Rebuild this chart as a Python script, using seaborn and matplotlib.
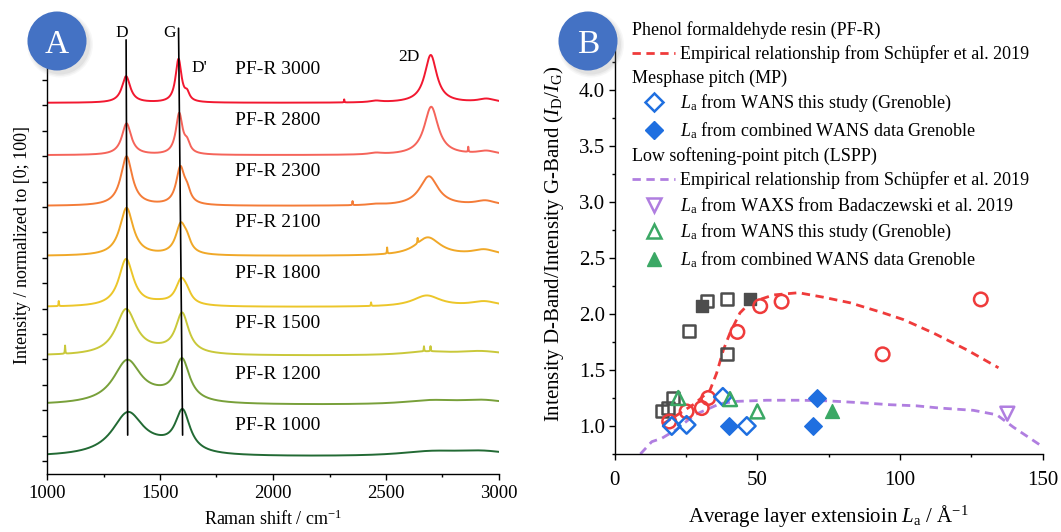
import numpy as np
import matplotlib
matplotlib.use("Agg")
import matplotlib.pyplot as plt
import seaborn as sns
from matplotlib.lines import Line2D
from matplotlib.patches import Circle
from matplotlib.ticker import MultipleLocator, FixedLocator

# ---------------- Panel A : Raman spectra (peak parameters) ----------------
samples = ["PF-R 1000", "PF-R 1200", "PF-R 1500", "PF-R 1800",
           "PF-R 2100", "PF-R 2300", "PF-R 2800", "PF-R 3000"]
colors_a = ["#226a34", "#78a03a", "#c9c83a", "#ecc62a",
            "#f0a828", "#f47c38", "#f5645a", "#f21830"]
base = [8, 10, 7, 3, 3.5, 2, 2, 5]
d_pos = [1358, 1355, 1350, 1350, 1352, 1352, 1352, 1350]
d_amp = [83, 84, 89, 93, 94, 97, 62, 52]
d_fwhm = [170, 150, 110, 78, 72, 62, 50, 45]
g_pos = [1600, 1598, 1598, 1594, 1592, 1590, 1585, 1582]
g_amp = [80, 80, 78, 48, 58, 72, 80, 85]
g_fwhm = [80, 80, 70, 60, 55, 45, 36, 32]
dp_pos = [1620, 1620, 1620, 1620, 1620, 1620, 1620, 1620]
dp_amp = [0, 0, 0, 12, 18, 20, 18, 14]
dp_fwhm = [40, 40, 40, 45, 40, 35, 30, 25]
d3_pos = [1500, 1500, 1500, 1500, 1500, 1500, 1500, 1500]
d3_amp = [10, 10, 6, 5, 0, 0, 0, 0]
d3_fwhm = [200, 200, 200, 150, 150, 150, 150, 150]
twod_pos = [2700, 2700, 2680, 2680, 2685, 2690, 2700, 2698]
twod_amp = [9, 8, 7, 22, 36, 58, 95, 94]
twod_fwhm = [350, 300, 250, 150, 135, 100, 75, 65]
dg_pos = [2930, 2930, 2920, 2935, 2935, 2940, 2945, 2945]
dg_amp = [9, 8, 8, 10, 11, 9, 7, 7]
dg_fwhm = [300, 250, 250, 150, 130, 110, 100, 90]
sm_pos = [2455, 2455, 2455, 2455, 2455, 2455, 2455, 2455]
sm_amp = [0, 0, 0, 0, 0, 2, 3, 3]
sm_fwhm = [80, 80, 80, 80, 80, 80, 70, 60]
# cosmic-ray spikes: (sample index, position, height)
spike_idx = [7, 6, 5, 4, 4, 3, 3, 2, 2, 2]
spike_pos = [2315, 2864, 2352, 2505, 2640, 1052, 2434, 1080, 2668, 2697]
spike_amp = [6, 10, 8, 12, 10, 10, 7, 16, 10, 10]

# ---------------- Panel B data ----------------
pfr_la = [19.1, 25.2, 30.5, 32.8, 43.0, 51.0, 58.5, 93.9, 128.3]
pfr_r = [1.04, 1.13, 1.16, 1.25, 1.84, 2.07, 2.11, 1.64, 2.13]
grey_open_la = [16.5, 18.8, 20.5, 26.0, 32.2, 39.5, 39.5]
grey_open_r = [1.13, 1.16, 1.25, 1.85, 2.12, 2.13, 1.64]
grey_fill_la = [30.5, 47.4]
grey_fill_r = [2.07, 2.13]
mp_open_la = [20.0, 25.2, 37.9, 46.3]
mp_open_r = [1.00, 1.01, 1.26, 1.00]
mp_fill_la = [40.2, 70.8, 69.6]
mp_fill_r = [1.00, 1.25, 1.00]
lspp_waxs_la = [137.6]
lspp_waxs_r = [1.11]
lspp_open_la = [22.3, 40.4, 50.0]
lspp_open_r = [1.25, 1.24, 1.13]
lspp_fill_la = [76.1]
lspp_fill_r = [1.13]
pfr_emp_la = [17.0, 22.0, 28.1, 33.4, 35.7, 38.1, 40.4, 43.9, 47.4, 55.6, 64.4,
              73.1, 82.5, 94.1, 101.2, 111.7, 123.4, 134.5]
pfr_emp_r = [1.02, 1.10, 1.20, 1.32, 1.47, 1.68, 1.83, 2.01, 2.10, 2.17, 2.19,
             2.15, 2.10, 2.01, 1.95, 1.83, 1.68, 1.52]
lspp_emp_la = [9.0, 13.0, 16.5, 21.7, 28.0, 33.4, 37.0, 42.8, 53.3, 64.9, 74.3,
               84.8, 96.5, 105.8, 114.0, 125.7, 133.9, 139.7, 149.1, 150.0]
lspp_emp_r = [0.75, 0.86, 0.89, 0.97, 1.10, 1.16, 1.20, 1.22, 1.23, 1.23, 1.225,
              1.21, 1.19, 1.18, 1.16, 1.14, 1.10, 0.99, 0.83, 0.81]

RED = "#ef3b3b"
PURPLE = "#b07ee0"
BLUE = "#1f6fe0"
GREEN = "#3ba865"
GREY = "#4d4d4d"
BADGE = "#4472c4"

sns.set_theme(style="ticks")
plt.rcParams["font.family"] = ["Liberation Serif", "DejaVu Serif"]
plt.rcParams["mathtext.fontset"] = "custom"
plt.rcParams["mathtext.rm"] = "Liberation Serif"
plt.rcParams["mathtext.it"] = "Liberation Serif:italic"
plt.rcParams["mathtext.bf"] = "Liberation Serif:bold"
plt.rcParams["axes.edgecolor"] = "black"
plt.rcParams["xtick.color"] = "black"
plt.rcParams["ytick.color"] = "black"
plt.rcParams["text.color"] = "black"
plt.rcParams["axes.labelcolor"] = "black"

W, H = 1061, 532
fig = plt.figure(figsize=(W / 100, H / 100), dpi=100)
axA = fig.add_axes([47 / W, (H - 474) / H, 452 / W, (474 - 15) / H])
axB = fig.add_axes([614.7 / W, (H - 454) / H, 428 / W, (454 - 34) / H])


def lor(x, c, h, w):
    return h / (1.0 + ((x - c) / (w / 2.0)) ** 2)


x = np.linspace(1000, 3000, 4001)
step = 100
for i, name in enumerate(samples):
    y = np.full_like(x, base[i], dtype=float)
    y += lor(x, d_pos[i], d_amp[i], d_fwhm[i])
    y += lor(x, g_pos[i], g_amp[i], g_fwhm[i])
    y += lor(x, dp_pos[i], dp_amp[i], dp_fwhm[i])
    y += lor(x, d3_pos[i], d3_amp[i], d3_fwhm[i])
    y += lor(x, twod_pos[i], twod_amp[i], twod_fwhm[i])
    y += lor(x, dg_pos[i], dg_amp[i], dg_fwhm[i])
    y += lor(x, sm_pos[i], sm_amp[i], sm_fwhm[i])
    for k, p, a in zip(spike_idx, spike_pos, spike_amp):
        if k == i:
            y += lor(x, p, a, 2.5)
    sns.lineplot(x=x, y=y + i * step, ax=axA, color=colors_a[i], lw=1.4,
                 estimator=None, errorbar=None, sort=False, legend=False)
    axA.text(1830, i * step + 70, name, fontsize=14, ha="left", va="center")

# peak position guide lines
axA.plot([d_pos[-1], d_pos[0] - 1], [829, 51], color="black", lw=1.2, zorder=5)
axA.plot([g_pos[-1], g_pos[0]], [852, 51], color="black", lw=1.2, zorder=5)
axA.text(1331, 842, "D", fontsize=12.5, ha="center", va="center")
axA.text(1543, 842, "G", fontsize=12.5, ha="center", va="center")
axA.text(1675, 773, "D'", fontsize=12.5, ha="center", va="center")
axA.text(2602, 795, "2D", fontsize=12.5, ha="center", va="center")

axA.set_xlim(1000, 3000)
axA.set_ylim(-25.6, 878)
axA.xaxis.set_major_locator(MultipleLocator(500))
axA.xaxis.set_minor_locator(MultipleLocator(250))
axA.yaxis.set_major_locator(FixedLocator(np.arange(0, 751, 50)))
axA.set_yticklabels([])
axA.tick_params(axis="x", which="major", direction="out", length=4, width=1, labelsize=13.5, pad=4)
axA.tick_params(axis="x", which="minor", direction="out", length=2.5, width=1)
axA.tick_params(axis="y", which="major", direction="out", length=3.5, width=1)
for s in ["top", "right"]:
    axA.spines[s].set_visible(False)
for s in ["left", "bottom"]:
    axA.spines[s].set_linewidth(1.0)
axA.set_xlabel("Raman shift / cm$^{-1}$", fontsize=13)
axA.set_ylabel("Intensity / normalized to [0; 100]", fontsize=13)
axA.xaxis.set_label_coords(0.5, -0.078)
axA.yaxis.set_label_coords(-0.035, 0.5)

# ---------------- Panel B ----------------
dash = (0, (3, 2))
sns.lineplot(x=pfr_emp_la, y=pfr_emp_r, ax=axB, color=RED, lw=2, linestyle=dash,
             estimator=None, errorbar=None, sort=False, legend=False)
sns.lineplot(x=lspp_emp_la, y=lspp_emp_r, ax=axB, color=PURPLE, lw=2, linestyle=dash,
             estimator=None, errorbar=None, sort=False, legend=False)

EW = 1.8
sns.scatterplot(x=grey_fill_la, y=grey_fill_r, ax=axB, marker="s", s=74,
                color=GREY, edgecolor=GREY, linewidth=1, legend=False, zorder=3)
sns.scatterplot(x=grey_open_la, y=grey_open_r, ax=axB, marker="s", s=74,
                facecolor="none", edgecolor=GREY, linewidth=EW, legend=False, zorder=3)
sns.scatterplot(x=pfr_la, y=pfr_r, ax=axB, marker="o", s=95,
                facecolor="none", edgecolor=RED, linewidth=EW, legend=False, zorder=3)
sns.scatterplot(x=mp_open_la, y=mp_open_r, ax=axB, marker="D", s=80,
                facecolor="none", edgecolor=BLUE, linewidth=EW, legend=False, zorder=4)
sns.scatterplot(x=mp_fill_la, y=mp_fill_r, ax=axB, marker="D", s=80,
                color=BLUE, edgecolor=BLUE, linewidth=1, legend=False, zorder=4)
sns.scatterplot(x=lspp_waxs_la, y=lspp_waxs_r, ax=axB, marker="v", s=100,
                facecolor="none", edgecolor=PURPLE, linewidth=EW, legend=False, zorder=4)
sns.scatterplot(x=lspp_open_la, y=lspp_open_r, ax=axB, marker="^", s=100,
                facecolor="none", edgecolor=GREEN, linewidth=EW, legend=False, zorder=4)
sns.scatterplot(x=lspp_fill_la, y=lspp_fill_r, ax=axB, marker="^", s=100,
                color=GREEN, edgecolor=GREEN, linewidth=1, legend=False, zorder=4)

axB.set_xlim(0, 150)
axB.set_ylim(0.75, 4.5)
axB.xaxis.set_major_locator(MultipleLocator(50))
axB.xaxis.set_minor_locator(MultipleLocator(25))
axB.yaxis.set_major_locator(FixedLocator(np.arange(1.0, 4.01, 0.5)))
axB.yaxis.set_minor_locator(FixedLocator(np.arange(0.75, 4.3, 0.25)))
axB.tick_params(axis="both", which="major", direction="out", length=4.3, width=1, labelsize=15)
axB.tick_params(axis="x", which="major", pad=8)
axB.tick_params(axis="y", which="major", pad=2.7)
axB.tick_params(axis="both", which="minor", direction="out", length=2.5, width=1)
for s in ["top", "right"]:
    axB.spines[s].set_visible(False)
for s in ["left", "bottom"]:
    axB.spines[s].set_linewidth(1.0)
axB.set_xlabel("Average layer extensioin $L_\\mathrm{a}$ / Å$^{-1}$", fontsize=15)
axB.set_ylabel("Intensity D-Band/Intensity G-Band ($I_\\mathrm{D}$/$I_\\mathrm{G}$)", fontsize=15)
axB.xaxis.set_label_coords(0.5, -0.117)
axB.yaxis.set_label_coords(-0.114, 0.5)

blank = Line2D([], [], linestyle="none")
handles = [
    blank,
    Line2D([], [], color=RED, lw=2, linestyle=dash),
    blank,
    Line2D([], [], linestyle="none", marker="D", markersize=9, mfc="none", mec=BLUE, mew=EW),
    Line2D([], [], linestyle="none", marker="D", markersize=9, mfc=BLUE, mec=BLUE),
    blank,
    Line2D([], [], color=PURPLE, lw=2, linestyle=dash),
    Line2D([], [], linestyle="none", marker="v", markersize=10, mfc="none", mec=PURPLE, mew=EW),
    Line2D([], [], linestyle="none", marker="^", markersize=10, mfc="none", mec=GREEN, mew=EW),
    Line2D([], [], linestyle="none", marker="^", markersize=10, mfc=GREEN, mec=GREEN),
]
labels = [
    "Phenol formaldehyde resin (PF-R)",
    "Empirical relationship from Schüpfer et al. 2019",
    "Mesphase pitch (MP)",
    "$L_\\mathrm{a}$ from WANS this study (Grenoble)",
    "$L_\\mathrm{a}$ from combined WANS data Grenoble",
    "Low softening-point pitch (LSPP)",
    "Empirical relationship from Schüpfer et al. 2019",
    "$L_\\mathrm{a}$ from WAXS from Badaczewski et al. 2019",
    "$L_\\mathrm{a}$ from WANS this study (Grenoble)",
    "$L_\\mathrm{a}$ from combined WANS data Grenoble",
]
LFS = 13
HL, HTP = 2.4, 0.25
leg = axB.legend(handles, labels, loc="upper left",
                 bbox_to_anchor=(632 / W, 1 - 21 / H), bbox_transform=fig.transFigure,
                 frameon=False, fontsize=LFS, handlelength=HL, handletextpad=HTP,
                 labelspacing=0.345, borderpad=0, borderaxespad=0)
shift_px = (HL + HTP) * LFS * fig.dpi / 72.0
for j in (0, 2, 5):
    leg.get_texts()[j].set_x(-shift_px)

# ---------------- badges ----------------
def badge(cx_px, cy_px, letter):
    cx, cy = cx_px / 100.0, (H - cy_px) / 100.0
    for r, a in [(0.33, 0.06), (0.315, 0.08), (0.30, 0.10)]:
        fig.add_artist(Circle((cx + 0.03, cy - 0.035), r, transform=fig.dpi_scale_trans,
                              color="#808080", alpha=a, lw=0, zorder=20))
    fig.add_artist(Circle((cx, cy), 0.295, transform=fig.dpi_scale_trans,
                          color=BADGE, lw=0, zorder=21))
    fig.text(cx, cy, letter, transform=fig.dpi_scale_trans, ha="center",
             va="center_baseline", color="white", fontsize=24, zorder=22)


badge(57, 41, "A")
badge(588, 41, "B")

fig.savefig("out.png", dpi=100)
